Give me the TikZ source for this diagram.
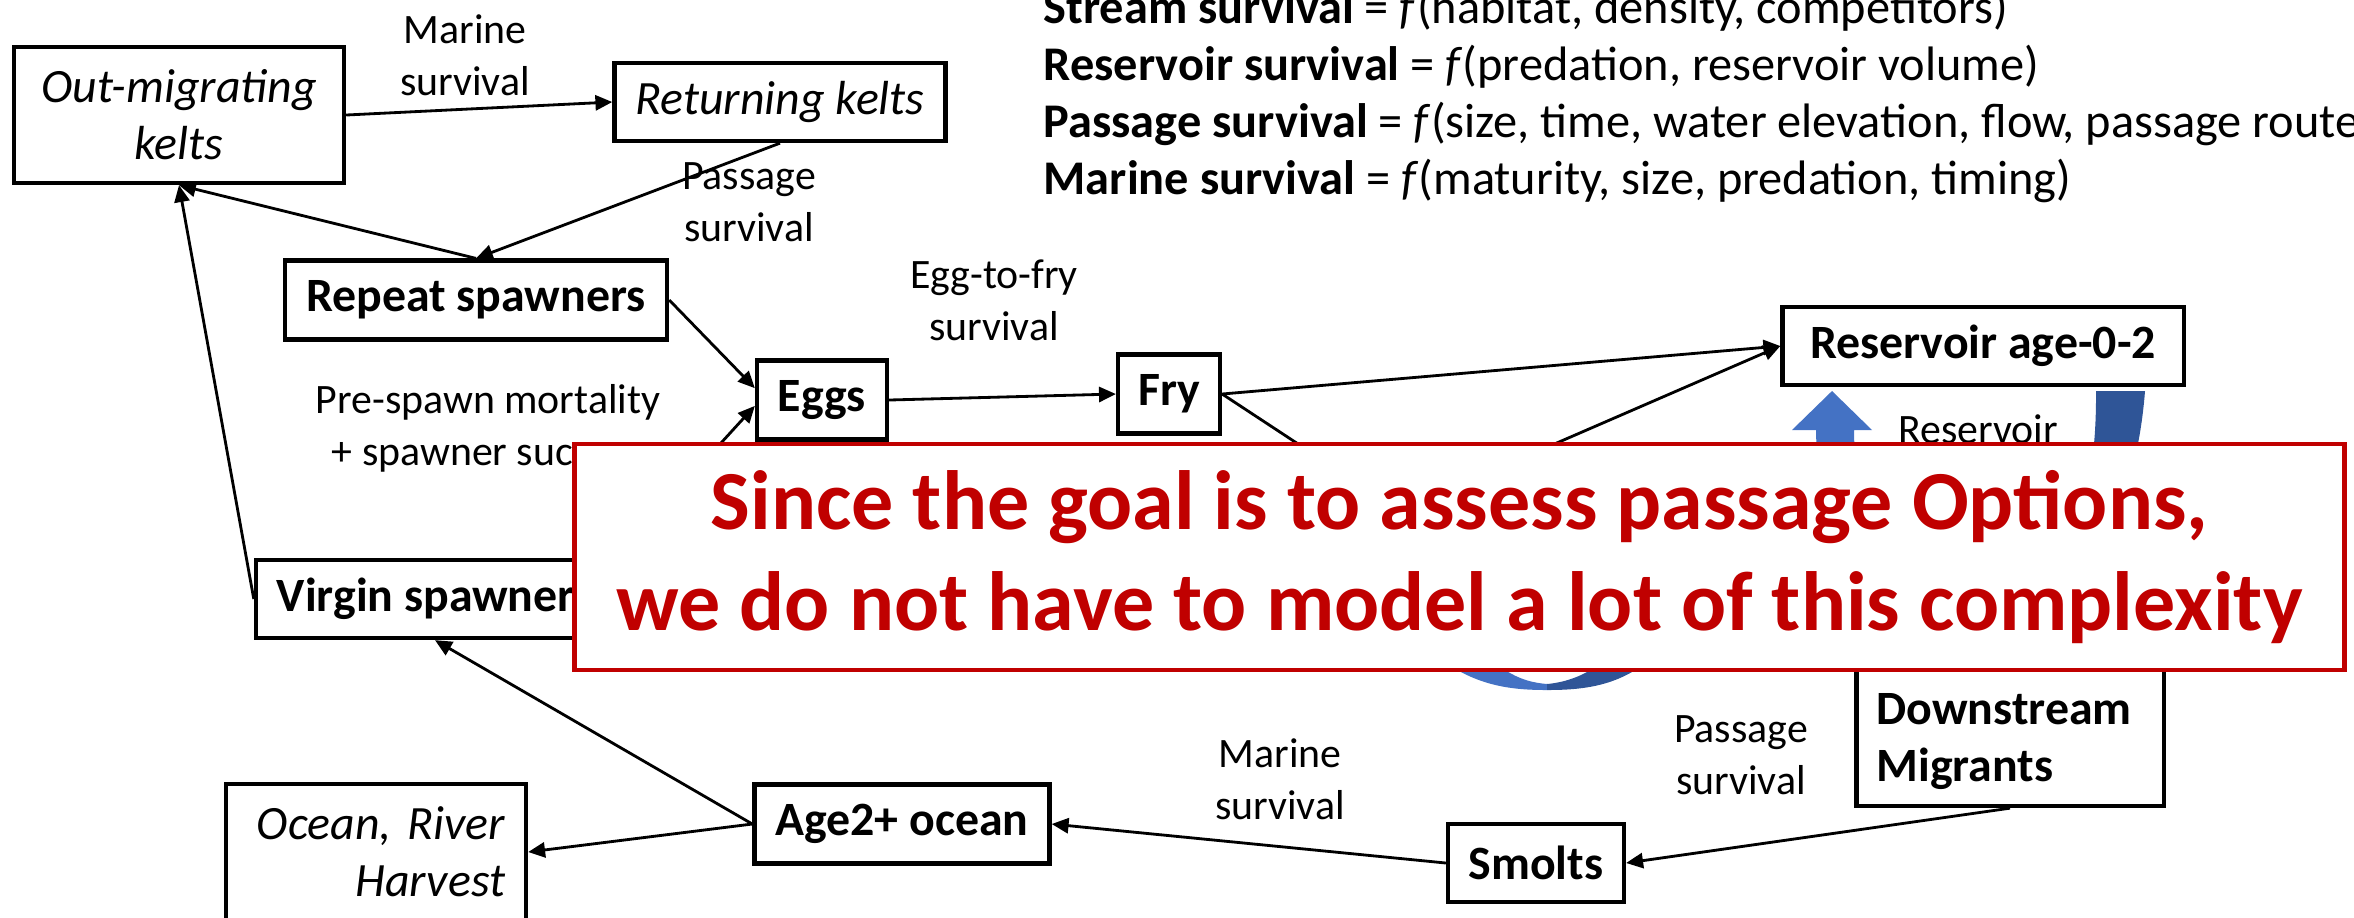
\documentclass[tikz,border=0pt]{standalone}
\usepackage{fontspec}
\setmainfont{Carlito}
\usetikzlibrary{arrows.meta}

\definecolor{notered}{HTML}{C00000}
\definecolor{loopblue}{HTML}{4472C4}
\definecolor{loopdark}{HTML}{2F5597}

\tikzstyle{box} = [rectangle, draw=black, line width=1.2pt, inner sep=0pt, align=center, minimum height=0.79cm, font=\fontsize{13.6}{16.2}\selectfont\bfseries]
\tikzstyle{kelt} = [rectangle, draw=black, line width=1.2pt, inner sep=0pt, align=center, font=\fontsize{13.6}{16.2}\selectfont\itshape]
\tikzstyle{lbl} = [inner sep=0pt, align=center, font=\fontsize{11.9}{14.8}\selectfont]
\tikzstyle{arrow} = [line width=0.8pt,->,>={Triangle[length=4.8pt,width=4.3pt]}]
\tikzstyle{note} = [rectangle, draw=notered, line width=1.2pt, fill=white, align=center, text=notered, font=\fontsize{23.9}{28.7}\selectfont\bfseries]

\begin{document}
\begin{tikzpicture}[x=0.01cm, y=-0.01cm]
\useasboundingbox (0,0) rectangle (2354,917);

\node (OMK) [kelt, minimum width=3.3cm, minimum height=1.36cm] at (179,115) {Out-migrating\\kelts};
\node (RK) [kelt, minimum width=3.31cm, minimum height=0.78cm] at (780,102) {Returning kelts};
\node (RS) [box, minimum width=3.82cm] at (476,300) {Repeat spawners};
\node (EG) [box, minimum width=1.3cm] at (822,400) {Eggs};
\node (FR) [box, minimum width=1.02cm] at (1169,394) {Fry};
\node (RA) [box, minimum width=4.01cm, minimum height=0.78cm] at (1983,346) {Reservoir age-0-2};
\node (VS) [box, minimum width=3.58cm, minimum height=0.78cm] at (435,599) {Virgin spawners};
\node (AO) [box, minimum width=2.95cm] at (902,824) {Age2+ ocean};
\node (SM) [box, minimum width=1.76cm, minimum height=0.78cm] at (1536,863) {Smolts};
\node (DM) [box, align=left, text width=2.67cm, minimum width=3.07cm, minimum height=1.56cm] at (2010,728) {\rule{0pt}{1.22em}Downstream\\Migrants};
\node (OH) [kelt, align=right, text width=2.58cm, minimum width=3.0cm, minimum height=1.36cm] at (376,852) {Ocean, River\hspace*{0.23em}\\Harvest};
\coordinate (ST) at (1400,511);

\draw [arrow] (OMK.east) -- (RK.west);
\draw [arrow] (RK.south) -- (RS.north);
\draw [arrow] (RS.north) -- (OMK.south);
\draw [arrow] (VS.west) -- (OMK.south);
\draw [arrow] (RS.east) -- (EG.170);
\draw [arrow] (VS.north east) -- (EG.185);
\draw [arrow] (EG.east) -- (FR.west);
\draw [arrow] (FR.east) -- (RA.west);
\draw [arrow] (FR.east) -- (ST);
\draw [arrow] (ST) -- (RA.west);
\draw [arrow] (AO.west) -- (VS.south);
\draw [arrow] (AO.west) -- (OH.east);
\draw [arrow] (SM.west) -- (AO.east);
\draw [arrow] (DM.south) -- (SM.east);

\node (L1) [lbl] at (465,55) {Marine\\survival};
\node (L2) [lbl] at (749,202) {Passage\\survival};
\node (L3) [lbl] at (994,300) {Egg-to-fry\\survival};
\node (L4) [lbl] at (488,428) {Pre-spawn mortality\\+ spawner success};
\node (L5) [lbl] at (1978,455) {Reservoir\\survival};
\node (L6) [lbl] at (1280,779) {Marine\\survival};
\node (L7) [lbl] at (1741,755) {Passage\\survival};

\foreach \lhs/\rhs [count=\i] in {Stream survival/{habitat, density, competitors}, Reservoir survival/{predation, reservoir volume}, Passage survival/{size, time, water elevation, flow, passage route}, Marine survival/{maturity, size, predation, timing}}
  \node (F\i) [anchor=base west, inner sep=0pt, font=\fontsize{13.75}{16}\selectfont] at (1043,23+57.3*\i-57.3) {\textbf{\lhs} = \textit{f}(\rhs)};

% reservoir loop
\fill [loopdark] (2145,391) .. controls (2135,520) and (2080,610) .. (1980,615) -- (1980,600) .. controls (2060,595) and (2097,520) .. (2096,391) -- cycle;
\fill [loopblue] (1980,615) .. controls (1880,610) and (1816,520) .. (1816,430) -- (1792,430) -- (1832,391) -- (1872,430) -- (1854,430) .. controls (1854,520) and (1900,598) .. (1980,600) -- cycle;
% stream loop, lower turn
\fill [loopblue] (1430,650) .. controls (1470,686) and (1510,690) .. (1547,690) -- (1547,684) .. controls (1525,682) and (1508,676) .. (1480,650) -- cycle;
\fill [loopdark] (1547,690) .. controls (1585,690) and (1625,686) .. (1660,650) -- (1615,650) .. controls (1595,672) and (1570,682) .. (1547,684) -- cycle;

\node (N) [note, minimum width=17.69cm, minimum height=2.26cm] at (1459.5,557) {Since the goal is to assess passage Options,\\we do not have to model a lot of this complexity};

\end{tikzpicture}
\end{document}
